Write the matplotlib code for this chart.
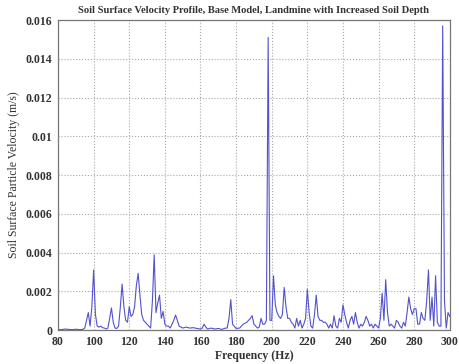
import matplotlib
matplotlib.use("Agg")
import matplotlib.pyplot as plt

freq = [80, 82, 84, 86, 88, 90, 92, 94, 95, 96,
        97, 98, 99, 100, 101, 102, 103, 104, 105, 106,
        107, 108, 109, 110, 111, 112, 113, 114, 115, 116,
        117, 118, 119, 120, 121, 122, 123, 124, 125, 126,
        127, 128, 129, 130, 131, 132, 133, 134, 135, 136,
        137, 138, 139, 140, 141, 142, 143, 144, 145, 146,
        147, 148, 150, 152, 154, 156, 158, 160, 161, 162,
        163, 164, 166, 168, 170, 172, 174, 175, 176, 177,
        178, 180, 182, 184, 186, 188, 189, 190, 191, 192,
        193, 194, 195, 196, 197, 198, 199, 200, 201, 202,
        203, 204, 205, 206, 207, 208, 209, 210, 211, 212,
        213, 214, 215, 216, 217, 218, 219, 220, 221, 222,
        223, 224, 225, 226, 227, 228, 229, 230, 231, 232,
        233, 234, 235, 236, 237, 238, 239, 240, 241, 242,
        243, 244, 245, 246, 247, 248, 249, 250, 251, 252,
        253, 254, 255, 256, 257, 258, 259, 260, 261, 262,
        263, 264, 265, 266, 267, 268, 269, 270, 271, 272,
        273, 274, 275, 276, 277, 278, 279, 280, 281, 282,
        283, 284, 285, 286, 287, 288, 289, 290, 291, 292,
        293, 294, 295, 296, 297, 298, 299, 300]

velocity = [0.00003, 0.00002, 0.00005, 0.00003, 0.00002, 0.00004, 0.00002, 0.00003, 0.0001, 0.0005,
            0.0009, 0.0002, 0.0012, 0.0031, 0.0008, 0.0002, 0.00015, 0.0002, 0.00012, 0.0001,
            0.00005, 0.0001, 0.0006, 0.00114, 0.0004, 0.0001, 0.00008, 0.0002, 0.0012, 0.00237,
            0.0012, 0.0005, 0.0004, 0.0012, 0.0007, 0.0008, 0.0012, 0.0023, 0.00292, 0.0018,
            0.0008, 0.0005, 0.0004, 0.0003, 0.0002, 0.0001, 0.0015, 0.00388, 0.0009, 0.0014,
            0.0018, 0.0006, 0.00096, 0.0003, 0.0002, 0.0002, 0.0001, 0.0003, 0.0005, 0.00077,
            0.0005, 0.0002, 0.0001, 0.00015, 0.0001, 0.00012, 0.00008, 0.00005, 0.0001, 0.0003,
            0.00015, 0.00005, 0.0001, 0.00005, 0.00008, 0.00003, 0.0001, 0.0001, 0.0006, 0.00157,
            0.0003, 0.00008, 0.0001, 0.0003, 0.0004, 0.0006, 0.00074, 0.0003, 0.0002, 0.0001,
            0.00015, 0.0006, 0.0003, 0.0003, 0.0005, 0.0151, 0.0005, 0.0005, 0.0028, 0.0013,
            0.0009, 0.0007, 0.0006, 0.0008, 0.0022, 0.0012, 0.0006, 0.0006, 0.0004, 0.0003,
            0.0001, 0.0006, 0.0002, 0.0005, 0.0001, 0.0003, 0.0006, 0.0021, 0.0009, 0.0002,
            0.0001, 0.0008, 0.0018, 0.0007, 0.0005, 0.0005, 0.0004, 0.0004, 0.0003, 0.0001,
            0.0003, 0.0001, 0.00074, 0.0002, 0.0001, 0.0006, 0.0004, 0.0013, 0.0008, 0.0004,
            0.0001, 0.0005, 0.0007, 0.0003, 0.0009, 0.0004, 0.0001, 0.0003, 0.0002, 0.0004,
            0.0007, 0.0005, 0.0002, 0.0003, 0.0001, 0.0003, 0.0002, 0.0001, 0.0006, 0.0019,
            0.0005, 0.0026, 0.0009, 0.0002, 0.0003, 0.0002, 0.0001, 0.0005, 0.0004, 0.0002,
            0.0001, 0.0004, 0.0002, 0.0009, 0.0017, 0.0011, 0.0008, 0.0011, 0.0011, 0.0003,
            0.0003, 0.0009, 0.0006, 0.0005, 0.0015, 0.0031, 0.0005, 0.0017, 0.0002, 0.0028,
            0.0004, 0.0002, 0.0002, 0.0157, 0.0015, 0.0001, 0.0009, 0.0007]

title = "Soil Surface Velocity Profile, Base Model, Landmine with Increased Soil Depth"
xlabel = "Frequency (Hz)"
ylabel = "Soil Surface Particle Velocity (m/s)"
xticks = [80, 100, 120, 140, 160, 180, 200, 220, 240, 260, 280, 300]
yticks = [0, 0.002, 0.004, 0.006, 0.008, 0.01, 0.012, 0.014, 0.016]
ytick_labels = ["0", "0.002", "0.004", "0.006", "0.008", "0.01", "0.012", "0.014", "0.016"]

plt.rcParams['font.family'] = ['Liberation Serif', 'DejaVu Serif']
fig = plt.figure(figsize=(4.59, 3.64), dpi=100)
ax = fig.add_axes([0.1264, 0.0934, 0.8536, 0.8516])
ax.plot(freq, velocity, color='#5252cc', linewidth=0.8)
ax.set_xlim(80, 300)
ax.set_ylim(0, 0.016)
ax.set_xticks(xticks)
ax.set_yticks(yticks)
ax.set_yticklabels(ytick_labels)
ax.grid(True, linestyle=':', color='#a8a8a8', linewidth=0.8)
ax.tick_params(labelsize=8.5, length=0, pad=4, colors='#333333')
for lbl in ax.get_xticklabels() + ax.get_yticklabels():
    lbl.set_fontweight('bold')
for s in ax.spines.values():
    s.set_color('#777777')
    s.set_linewidth(0.9)
ax.set_title(title, fontsize=7.6, fontweight='bold', pad=5, color='#333333')
ax.set_xlabel(xlabel, fontsize=8.5, fontweight='bold', labelpad=2, color='#333333')
ax.set_ylabel(ylabel, fontsize=8.5, labelpad=4, color='#333333')
fig.savefig("out.png", dpi=100)
